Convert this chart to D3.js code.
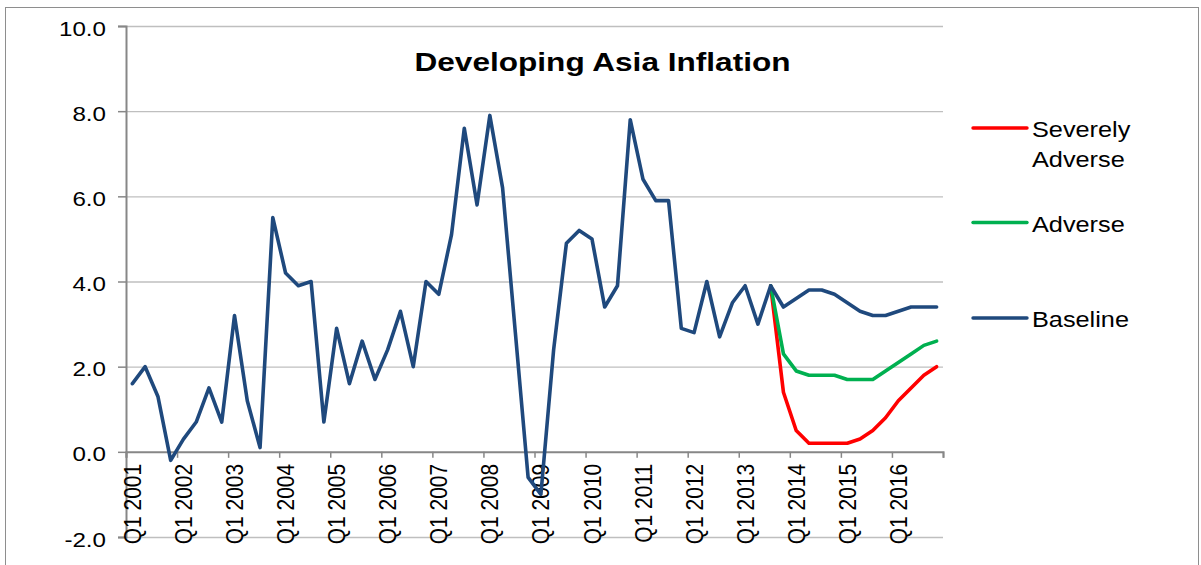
<!DOCTYPE html>
<html><head><meta charset="utf-8">
<script src="https://cdn.jsdelivr.net/npm/d3@7"></script>
<style>
html,body{margin:0;padding:0;background:#fff;}
svg{display:block;}
text{font-family:"Liberation Sans", Arial, Helvetica, sans-serif;fill:#000;}
</style></head><body>
<svg id="chart" width="1201" height="565"></svg>
<script>
// ---------------- data ----------------
const years = [2001,2002,2003,2004,2005,2006,2007,2008,2009,2010,2011,2012,2013,2014,2015,2016];
const quarters = ["Q1","Q2","Q3","Q4"];
const categories = years.flatMap(y => quarters.map(q => q + " " + y));
const tickLabels = ["Q1 2001","Q1 2002","Q1 2003","Q1 2004","Q1 2005","Q1 2006","Q1 2007","Q1 2008",
                    "Q1 2009","Q1 2010","Q1 2011","Q1 2012","Q1 2013","Q1 2014","Q1 2015","Q1 2016"];
const yTicks = [-2,0,2,4,6,8,10];
const yTickLabels = ["-2.0","0.0","2.0","4.0","6.0","8.0","10.0"];
const titleText = "Developing Asia Inflation";

// Baseline: Q1 2001 .. Q4 2016
const baselineValues = [
  1.6, 2.0, 1.3, -0.2,
  0.3, 0.7, 1.5, 0.7,
  3.2, 1.2, 0.1, 5.5,
  4.2, 3.9, 4.0, 0.7,
  2.9, 1.6, 2.6, 1.7,
  2.4, 3.3, 2.0, 4.0,
  3.7, 5.1, 7.6, 5.8,
  7.9, 6.2, 2.8, -0.6,
  -1.0, 2.4, 4.9, 5.2,
  5.0, 3.4, 3.9, 7.8,
  6.4, 5.9, 5.9, 2.9,
  2.8, 4.0, 2.7, 3.5,
  3.9, 3.0, 3.9, 3.4,
  3.6, 3.8, 3.8, 3.7,
  3.5, 3.3, 3.2, 3.2,
  3.3, 3.4, 3.4, 3.4
];
// Scenario paths start at Q3 2013
const scenarioStart = "Q3 2013";
const adverseValues = [3.9, 2.3, 1.9, 1.8, 1.8, 1.8, 1.7, 1.7, 1.7, 1.9, 2.1, 2.3, 2.5, 2.6];
const severeValues  = [3.9, 1.4, 0.5, 0.2, 0.2, 0.2, 0.2, 0.3, 0.5, 0.8, 1.2, 1.5, 1.8, 2.0];

const seriesNames = ["Severely Adverse", "Adverse", "Baseline"];
const seriesColors = ["#FF0000", "#00B050", "#1F497D"];

// ---------------- build ----------------
const startIdx = categories.indexOf(scenarioStart);
const toPoints = (vals, offset) => vals.map((v, i) => ({cat: categories[offset + i], v}));
const series = [
  {name: seriesNames[0], color: seriesColors[0], pts: toPoints(severeValues, startIdx)},
  {name: seriesNames[1], color: seriesColors[1], pts: toPoints(adverseValues, startIdx)},
  {name: seriesNames[2], color: seriesColors[2], pts: toPoints(baselineValues, 0)}
];

const svg = d3.select("#chart");
const L = 126, R = 943, T = 26, B = 537;
const SX = 1.15; // horizontal text stretch of the reference

svg.append("rect").attr("x", 5.5).attr("y", 7.5).attr("width", 1193).attr("height", 600)
  .attr("fill", "none").attr("stroke", "#8E8E8E").attr("stroke-width", 1);

const x = d3.scaleBand().domain(categories).range([L, R]).padding(0);
const xIdx = d3.scaleLinear().domain([0, categories.length]).range([L, R]);
const y = d3.scaleLinear().domain([-2, 10]).range([B, T]);

// gridlines
const grid = svg.append("g").attr("transform", `translate(${L},0)`)
  .call(d3.axisLeft(y).tickValues(yTicks.filter(t => t !== 0)).tickSize(-(R - L)).tickFormat(""));
grid.select(".domain").remove();
grid.selectAll("line").attr("stroke", "#BFBFBF").attr("stroke-width", 1.3);

// y axis
const ya = svg.append("g").attr("transform", `translate(${L},0)`)
  .call(d3.axisLeft(y).tickValues(yTicks).tickSize(8).tickFormat((d, i) => yTickLabels[i]));
ya.select(".domain").attr("stroke", "#878787").attr("stroke-width", 2);
ya.selectAll("line").attr("stroke", "#878787").attr("stroke-width", 1.5);
ya.selectAll("text").attr("x", 0).attr("dy", null).attr("y", 0)
  .attr("transform", `translate(-20,9) scale(${SX},1)`)
  .attr("text-anchor", "end").style("font-size", "21px").attr("fill", "#000");

// x axis line + tick marks at category boundaries
const xa = svg.append("g").attr("transform", `translate(0,${y(0)})`)
  .call(d3.axisBottom(xIdx).tickValues(d3.range(0, categories.length + 1, 4)).tickSize(6).tickFormat(""));
xa.select(".domain").attr("stroke", "#878787").attr("stroke-width", 2);
xa.selectAll("line").attr("stroke", "#878787").attr("stroke-width", 1.5);

// x labels
const xl = svg.append("g").attr("transform", `translate(0,${y(0)})`)
  .call(d3.axisBottom(x).tickValues(tickLabels).tickSize(0));
xl.select(".domain").remove();
xl.selectAll("text").attr("x", 0).attr("y", 0).attr("dy", null)
  .attr("transform", `translate(8.6,12) scale(${SX},1) rotate(-90)`)
  .attr("text-anchor", "end").style("font-size", "21px").attr("fill", "#000");

// lines
const line = d3.line().x(d => x(d.cat) + x.bandwidth() / 2).y(d => y(d.v));
svg.append("g").selectAll("path").data(series).join("path")
  .attr("d", d => line(d.pts)).attr("fill", "none")
  .attr("stroke", d => d.color).attr("stroke-width", 3.6)
  .attr("stroke-linejoin", "round").attr("stroke-linecap", "round");

// title
svg.append("text").attr("x", 602.5).attr("y", 71).attr("text-anchor", "middle")
  .style("font-size", "26px").style("font-weight", "bold")
  .attr("textLength", 376).attr("lengthAdjust", "spacingAndGlyphs").text(titleText);

// legend
const legendY = [128, 222.5, 318];
const lg = svg.append("g").selectAll("g").data(series).join("g")
  .attr("transform", (d, i) => `translate(0,${legendY[i]})`);
lg.append("line").attr("x1", 973).attr("x2", 1027).attr("y1", 0).attr("y2", 0)
  .attr("stroke", d => d.color).attr("stroke-width", 3.4).attr("stroke-linecap", "round");
lg.each(function(d) {
  const words = d.name === "Severely Adverse" ? ["Severely", "Adverse"] : [d.name];
  const g = d3.select(this);
  words.forEach((w, j) => {
    g.append("text").attr("transform", `translate(1032,${9 + j * 29.5}) scale(${SX},1)`)
      .style("font-size", "22px").text(w);
  });
});
</script>
</body></html>
